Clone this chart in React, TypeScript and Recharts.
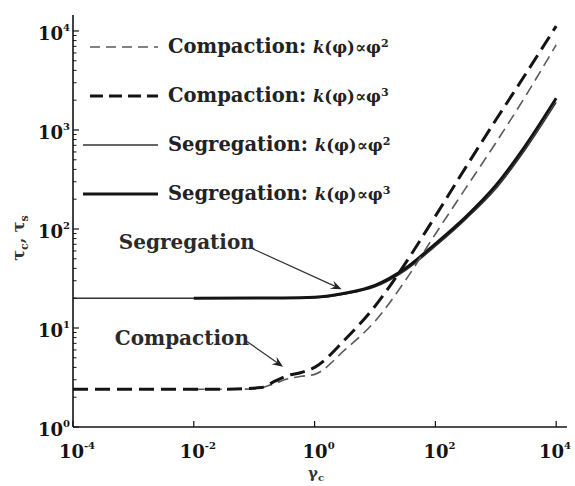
import { LineChart, Line, XAxis, YAxis, ReferenceLine } from "recharts";

const W = 575;
const H = 486;
const SERIF = "'DejaVu Serif', serif";
const INK = "#141414";
const GREY = "#5a5a5a";

// axes (log-log)
const X_MIN = 1e-4;
const X_MAX = 15100;
const Y_MIN = 1;
const Y_MAX = 14500;
const X_TICKS = [1e-4, 1e-2, 1, 1e2, 1e4];
const Y_TICKS: number[] = [];
for (let k = 0; k <= 4; k++) {
  for (let m = 1; m <= 9; m++) {
    const v = m * Math.pow(10, k);
    if (v <= Y_MAX) Y_TICKS.push(v);
  }
}

// Compaction, k(phi) ~ phi^2 (thin dashed)
const compK2X = [1e-2, 0.1, 0.2, 0.35, 0.6, 1, 3.16, 10, 31.6, 100, 316, 1000, 3162, 1e4];
const compK2Y = [2.4, 2.42, 2.7, 3.05, 3.25, 3.4, 6.0, 11.7, 30, 89, 257, 741, 2240, 7240];

// Compaction, k(phi) ~ phi^3 (thick dashed)
const compK3X = [1e-4, 1e-3, 1e-2, 0.05, 0.13, 0.22, 0.35, 0.6, 1, 3.16, 10, 31.6, 100, 316, 1000, 3162, 1e4];
const compK3Y = [2.4, 2.4, 2.4, 2.42, 2.5, 2.9, 3.3, 3.55, 4.0, 7.6, 16.6, 44.7, 135, 417, 1260, 3720, 11200];

// Segregation, k(phi) ~ phi^2 (thin solid)
const segK2X = [1e-4, 1e-2, 0.3, 1, 3.16, 10, 31.6, 100, 316, 1000, 3162, 1e4];
const segK2Y = [20, 20, 20.05, 20.2, 22, 26, 38, 67, 125, 255, 650, 1900];

// Segregation, k(phi) ~ phi^3 (thick solid)
const segK3X = [1e-2, 0.3, 1, 3.16, 10, 31.6, 100, 316, 1000, 3162, 1e4];
const segK3Y = [20, 20.1, 20.4, 22.4, 26.9, 39.8, 70.8, 132, 275, 708, 2090];

// annotation arrows (start at label, end at curve)
const segArrowX = [0.095, 2.8];
const segArrowY = [63, 24.6];
const compArrowX = [0.076, 0.3];
const compArrowY = [7.3, 4.06];

const pts = (xs: number[], ys: number[]) => xs.map((x, i) => ({ x, y: ys[i] }));

const exp10 = (v: number) => Math.round(Math.log10(v));
const isMajor = (v: number) => Math.abs(Math.log10(v) - exp10(v)) < 1e-9;

function BottomTick(props: any) {
  const { x, y, payload } = props;
  const e = exp10(payload.value);
  const cx = Math.min(x + 4, W - 20);
  return (
    <g>
      <line x1={x} y1={y} x2={x} y2={y - 6} stroke={INK} strokeWidth={1.2} />
      <text x={cx} y={y + 31} textAnchor="middle" fontFamily={SERIF} fontWeight="bold" fontSize={18} fill={INK}>
        10
        <tspan dy={-9} fontSize={10}>{e}</tspan>
      </text>
    </g>
  );
}

function TopTick(props: any) {
  const { x, y } = props;
  return <line x1={x} y1={y} x2={x} y2={y + 6} stroke={INK} strokeWidth={1.2} />;
}

function LeftTick(props: any) {
  const { x, y, payload } = props;
  const v = payload.value;
  if (!isMajor(v)) {
    return <line x1={x} y1={y} x2={x + 3.5} y2={y} stroke={INK} strokeWidth={1} />;
  }
  return (
    <g>
      <line x1={x} y1={y} x2={x + 6} y2={y} stroke={INK} strokeWidth={1.2} />
      <text x={x - 3} y={y + 9} textAnchor="end" fontFamily={SERIF} fontWeight="bold" fontSize={18} fill={INK}>
        10
        <tspan dy={-9} fontSize={10}>{exp10(v)}</tspan>
      </text>
    </g>
  );
}

function RightTick(props: any) {
  const { x, y, payload } = props;
  const len = isMajor(payload.value) ? 6 : 3.5;
  return <line x1={x} y1={y} x2={x - len} y2={y} stroke={INK} strokeWidth={1} />;
}

function arrowShape(label: string, dy: number) {
  return (props: any) => {
    const { x1, y1, x2, y2 } = props;
    const len = Math.hypot(x2 - x1, y2 - y1) || 1;
    const ux = (x2 - x1) / len;
    const uy = (y2 - y1) / len;
    const nx = -uy;
    const ny = ux;
    const head = [
      [x2, y2],
      [x2 - ux * 11 + nx * 4.5, y2 - uy * 11 + ny * 4.5],
      [x2 - ux * 7, y2 - uy * 7],
      [x2 - ux * 11 - nx * 4.5, y2 - uy * 11 - ny * 4.5],
    ]
      .map((p) => p.join(","))
      .join(" ");
    return (
      <g>
        <line x1={x1} y1={y1} x2={x2 - ux * 7} y2={y2 - uy * 7} stroke="#333" strokeWidth={1.2} />
        <polygon points={head} fill="#222" />
        <text x={x1 + 2} y={y1 + dy} textAnchor="end" fontFamily={SERIF} fontWeight="bold" fontSize={20} fill="#2a2a2a">
          {label}
        </text>
      </g>
    );
  };
}

const LEGEND = [
  { name: "Compaction", p: "2", dash: "10 6", width: 1.6, color: GREY },
  { name: "Compaction", p: "3", dash: "13 6", width: 3.2, color: INK },
  { name: "Segregation", p: "2", dash: undefined, width: 1.4, color: "#333" },
  { name: "Segregation", p: "3", dash: undefined, width: 3.2, color: INK },
];

function LegendBox() {
  return (
    <div style={{ position: "absolute", left: 82, top: 22, fontFamily: SERIF, color: "#222" }}>
      {LEGEND.map((it, i) => (
        <div key={i} style={{ display: "flex", alignItems: "center", height: 49 }}>
          <svg width={78} height={12} style={{ marginRight: 8 }}>
            <line x1={it.dash ? 8 : 1} y1={6} x2={76} y2={6} stroke={it.color} strokeWidth={it.width} strokeDasharray={it.dash} />
          </svg>
          <span style={{ fontWeight: "bold", fontSize: 19.5, whiteSpace: "nowrap" }}>
            {it.name}:{" "}
            <span style={{ fontSize: 16.5 }}>
              <i>k</i>(φ)∝φ<sup style={{ fontSize: 11 }}>{it.p}</sup>
            </span>
          </span>
        </div>
      ))}
    </div>
  );
}

export default function App() {
  return (
    <div style={{ position: "absolute", left: 0, top: 0, width: W, height: H, background: "#fff" }}>
      <LineChart width={W} height={H} margin={{ top: 15, right: 8, bottom: 0, left: 0 }}>
        <XAxis
          xAxisId="b"
          type="number"
          dataKey="x"
          scale="log"
          domain={[X_MIN, X_MAX]}
          ticks={X_TICKS}
          allowDataOverflow
          height={59}
          tickSize={0}
          tickMargin={0}
          tickLine={false}
          axisLine={{ stroke: INK, strokeWidth: 1.6 }}
          tick={(p: any) => <BottomTick {...p} />}
          interval={0}
        />
        <XAxis
          xAxisId="t"
          orientation="top"
          type="number"
          dataKey="x"
          scale="log"
          domain={[X_MIN, X_MAX]}
          ticks={X_TICKS}
          allowDataOverflow
          height={0}
          tickSize={0}
          tickMargin={0}
          tickLine={false}
          axisLine={{ stroke: INK, strokeWidth: 1.6 }}
          tick={(p: any) => <TopTick {...p} />}
          interval={0}
        />
        <YAxis
          yAxisId="l"
          type="number"
          dataKey="y"
          scale="log"
          domain={[Y_MIN, Y_MAX]}
          ticks={Y_TICKS}
          allowDataOverflow
          width={73}
          tickSize={0}
          tickMargin={0}
          tickLine={false}
          axisLine={{ stroke: INK, strokeWidth: 1.6 }}
          tick={(p: any) => <LeftTick {...p} />}
          interval={0}
        />
        <YAxis
          yAxisId="r"
          orientation="right"
          type="number"
          dataKey="y"
          scale="log"
          domain={[Y_MIN, Y_MAX]}
          ticks={Y_TICKS}
          allowDataOverflow
          width={0}
          tickSize={0}
          tickMargin={0}
          tickLine={false}
          axisLine={{ stroke: INK, strokeWidth: 1.6 }}
          tick={(p: any) => <RightTick {...p} />}
          interval={0}
        />
        <Line xAxisId="b" yAxisId="l" data={pts(segK2X, segK2Y)} dataKey="y" type="monotone" stroke="#333" strokeWidth={1.4} dot={false} isAnimationActive={false} />
        <Line xAxisId="b" yAxisId="l" data={pts(segK3X, segK3Y)} dataKey="y" type="monotone" stroke={INK} strokeWidth={3} dot={false} isAnimationActive={false} />
        <Line xAxisId="b" yAxisId="l" data={pts(compK2X, compK2Y)} dataKey="y" type="monotone" stroke={GREY} strokeWidth={1.6} strokeDasharray="11 6" dot={false} isAnimationActive={false} />
        <Line xAxisId="b" yAxisId="l" data={pts(compK3X, compK3Y)} dataKey="y" type="monotone" stroke={INK} strokeWidth={3} strokeDasharray="15 7" dot={false} isAnimationActive={false} />
        <ReferenceLine
          xAxisId="b"
          yAxisId="l"
          segment={[{ x: segArrowX[0], y: segArrowY[0] }, { x: segArrowX[1], y: segArrowY[1] }]}
          shape={arrowShape("Segregation", 0)}
        />
        <ReferenceLine
          xAxisId="b"
          yAxisId="l"
          segment={[{ x: compArrowX[0], y: compArrowY[0] }, { x: compArrowX[1], y: compArrowY[1] }]}
          shape={arrowShape("Compaction", 3)}
        />
      </LineChart>
      <LegendBox />
      <svg width={W} height={H} style={{ position: "absolute", left: 0, top: 0, pointerEvents: "none" }}>
        <text transform="translate(24,238) rotate(-90)" textAnchor="middle" fontFamily={SERIF} fontWeight="bold" fontSize={16} fill="#333">
          τ<tspan dy={4} fontSize={11}>c</tspan>
          <tspan dy={-4}>, τ</tspan>
          <tspan dy={4} fontSize={11}>s</tspan>
        </text>
        <text x={316} y={478} textAnchor="middle" fontFamily={SERIF} fontWeight="bold" fontSize={15} fill="#333">
          γ<tspan dy={3} fontSize={10}>c</tspan>
        </text>
      </svg>
    </div>
  );
}
